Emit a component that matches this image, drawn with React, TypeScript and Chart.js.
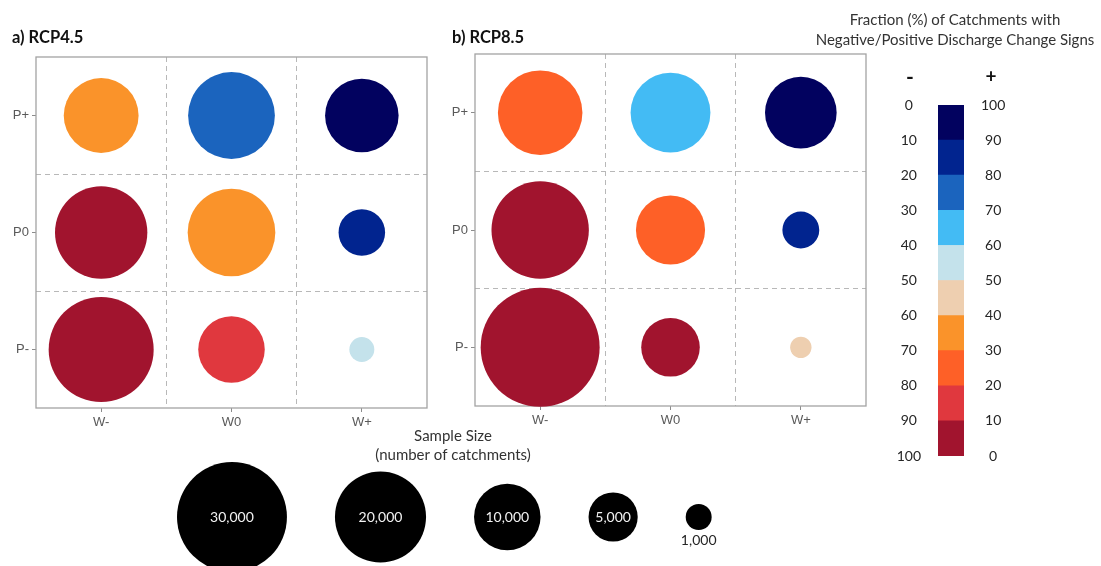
import React, { useEffect, useRef } from 'react';
import { Chart, registerables } from 'chart.js';

Chart.register(...registerables);

// ---------- data ----------
const W_LABELS = ['W-', 'W0', 'W+'];
const P_LABELS = ['P+', 'P0', 'P-'];

// row-major: P+ row, P0 row, P- row; columns W-, W0, W+
const RCP45_SIZES = [13000, 18000, 12500, 20600, 18400, 4400, 27200, 10000, 900];
const RCP45_POSITIVE = [34, 76, 97, 4, 36, 86, 3, 14, 56];
const RCP85_SIZES = [17000, 15000, 11800, 23100, 10900, 2500, 35500, 7500, 570];
const RCP85_POSITIVE = [24, 63, 96, 3, 27, 84, 2, 6, 44];

const BIN_EDGES = [0, 10, 20, 30, 40, 50, 60, 70, 80, 90, 100];
const BIN_COLORS = ['#a1142e', '#e0383e', '#fe6027', '#fa932a', '#eecfb0', '#c4e2eb', '#43bbf4', '#1b64be', '#01248f', '#02025f'];

const LEGEND_SIZES = [30000, 20000, 10000, 5000, 1000];

const COLORBAR_TITLE = ['Fraction (%) of Catchments with', 'Negative/Positive Discharge Change Signs'];
const LEGEND_TITLE = ['Sample Size', '(number of catchments)'];
const SIGN_LABELS = ['-', '+'];

// ---------- styles ----------
const SANS = 'Lato, "Open Sans", sans-serif';
const ARIAL = '"Liberation Sans", Arial, sans-serif';
const GRID = '#b8b8b8';
const FRAME = '#a3a3a3';

const sizeToRadius = (n: number) => 3.6 + 0.2966 * Math.sqrt(n);
const colorFor = (pos: number) => BIN_COLORS[Math.min(BIN_COLORS.length - 1, Math.floor(pos / 10))];
const isInt = (v: number) => Math.abs(v - Math.round(v)) < 1e-6;

const framePlugin = {
  id: 'frame',
  beforeDatasetsDraw(chart: any) {
    const { ctx, chartArea } = chart;
    ctx.save();
    ctx.strokeStyle = FRAME;
    ctx.lineWidth = 1.3;
    ctx.strokeRect(chartArea.left, chartArea.top, chartArea.right - chartArea.left, chartArea.bottom - chartArea.top);
    ctx.restore();
  },
};

function panelConfig(title: string, sizes: number[], positives: number[], lay: any) {
  const points = sizes.map((n, k) => {
    const row = Math.floor(k / W_LABELS.length);
    const col = k % W_LABELS.length;
    return { x: col + 1, y: P_LABELS.length - row, r: sizeToRadius(n) };
  });
  const axisCommon = (labelFor: (v: number) => string, width: number | null, height: number | null) => ({
    type: 'linear',
    min: 0.5,
    max: 3.5,
    ticks: {
      stepSize: 0.5,
      autoSkip: false,
      maxRotation: 0,
      padding: 3,
      color: '#595959',
      font: { family: ARIAL, size: 13 },
      callback: (v: any) => (isInt(Number(v)) ? labelFor(Math.round(Number(v))) : ''),
    },
    grid: {
      color: (c: any) => {
        const v = c.tick ? c.tick.value : 0;
        return !isInt(v) && v > 0.6 && v < 3.4 ? GRID : 'rgba(0,0,0,0)';
      },
      tickColor: (c: any) => (c.tick && isInt(c.tick.value) ? '#8c8c8c' : 'rgba(0,0,0,0)'),
      tickLength: 4,
      lineWidth: 1,
    },
    border: { display: false, dash: [5, 4] },
    afterFit: (s: any) => {
      if (width !== null) s.width = width;
      if (height !== null) s.height = height;
    },
  });
  return {
    type: 'bubble',
    data: {
      datasets: [
        {
          data: points,
          backgroundColor: positives.map(colorFor),
          borderWidth: 0,
          hoverBorderWidth: 0,
          clip: false,
        },
      ],
    },
    options: {
      animation: false,
      responsive: false,
      devicePixelRatio: 1,
      events: [],
      layout: { autoPadding: false, padding: { left: lay.padLeft, right: lay.padRight, top: 8, bottom: 0 } },
      plugins: {
        legend: { display: false },
        tooltip: { enabled: false },
        title: {
          display: true,
          text: title,
          align: 'start',
          color: '#111',
          font: { family: SANS, size: 16.5, weight: 'bold', lineHeight: 1.2 },
          padding: { top: 0, bottom: lay.titleBottom },
        },
      },
      scales: {
        x: { ...axisCommon((v) => W_LABELS[v - 1], null, lay.xHeight), position: 'bottom' },
        y: { ...axisCommon((v) => P_LABELS[P_LABELS.length - v], lay.yWidth, null), position: 'left' },
      },
    },
    plugins: [framePlugin],
  };
}

function colorbarConfig() {
  const signPlugin = {
    id: 'signs',
    afterDraw(chart: any) {
      const { ctx, chartArea } = chart;
      ctx.save();
      ctx.fillStyle = '#111';
      ctx.font = `bold 21px ${SANS}`;
      ctx.textAlign = 'center';
      ctx.textBaseline = 'middle';
      ctx.fillText(SIGN_LABELS[0], chartArea.left - 28, chartArea.top - 28);
      ctx.font = `bold 19px ${SANS}`;
      ctx.fillText(SIGN_LABELS[1], chartArea.right + 27, chartArea.top - 28);
      ctx.restore();
    },
  };
  const tickFont = { family: SANS, size: 14 };
  const sideGrid = { display: false, drawTicks: true, tickLength: 17, tickColor: 'rgba(0,0,0,0)' };
  return {
    type: 'bar',
    data: {
      labels: [''],
      datasets: BIN_COLORS.map((c, i) => ({
        data: [BIN_EDGES[i + 1] - BIN_EDGES[i]],
        backgroundColor: c,
        borderWidth: 0,
        barPercentage: 1,
        categoryPercentage: 1,
      })),
    },
    options: {
      animation: false,
      responsive: false,
      devicePixelRatio: 1,
      events: [],
      layout: { autoPadding: false, padding: { left: 0, right: 0, top: 0, bottom: 14 } },
      plugins: {
        legend: { display: false },
        tooltip: { enabled: false },
        title: {
          display: true,
          text: COLORBAR_TITLE,
          color: '#333',
          font: { family: SANS, size: 15, lineHeight: 20 / 15, weight: 'normal' },
          padding: { top: 10, bottom: 55 },
        },
      },
      scales: {
        x: { display: false, stacked: true },
        y: {
          stacked: true,
          position: 'left',
          min: 0,
          max: 100,
          ticks: {
            stepSize: 10,
            crossAlign: 'center',
            padding: 0,
            color: '#262626',
            font: tickFont,
            callback: (v: any) => String(100 - Number(v)),
          },
          grid: sideGrid,
          border: { display: false },
          afterFit: (s: any) => { s.width = 128; },
        },
        y2: {
          type: 'linear',
          axis: 'y',
          position: 'right',
          min: 0,
          max: 100,
          ticks: {
            stepSize: 10,
            crossAlign: 'center',
            padding: 0,
            color: '#262626',
            font: tickFont,
            callback: (v: any) => String(v),
          },
          grid: sideGrid,
          border: { display: false },
          afterFit: (s: any) => { s.width = 136; },
        },
      },
    },
    plugins: [signPlugin],
  };
}

function legendConfig(widthPx: number) {
  const radii = LEGEND_SIZES.map(sizeToRadius);
  const gap = 48;
  let cursor = 29;
  const points = radii.map((r) => {
    const x = cursor + r;
    cursor = x + r + gap;
    return { x, y: 0.5, r };
  });
  const labelPlugin = {
    id: 'sizeLabels',
    afterDatasetsDraw(chart: any) {
      const { ctx } = chart;
      const meta = chart.getDatasetMeta(0);
      ctx.save();
      ctx.font = `14px ${SANS}`;
      ctx.textAlign = 'center';
      ctx.textBaseline = 'middle';
      meta.data.forEach((el: any, i: number) => {
        const r = el.options.radius;
        const text = LEGEND_SIZES[i].toLocaleString('en-US');
        if (r > 20) {
          ctx.fillStyle = '#f2f2f2';
          ctx.fillText(text, el.x, el.y);
        } else {
          ctx.fillStyle = '#262626';
          ctx.fillText(text, el.x, el.y + r + 11);
        }
      });
      ctx.restore();
    },
  };
  return {
    type: 'bubble',
    data: {
      datasets: [
        { data: points, backgroundColor: '#000', borderWidth: 0, hoverBorderWidth: 0, clip: false },
      ],
    },
    options: {
      animation: false,
      responsive: false,
      devicePixelRatio: 1,
      events: [],
      layout: { autoPadding: false, padding: 0 },
      plugins: {
        legend: { display: false },
        tooltip: { enabled: false },
        title: {
          display: true,
          text: LEGEND_TITLE,
          color: '#333',
          font: { family: SANS, size: 15, lineHeight: 19 / 15, weight: 'normal' },
          padding: { top: 1.5, bottom: 3.5 },
        },
      },
      scales: {
        x: { type: 'linear', display: false, min: 0, max: widthPx },
        y: { type: 'linear', display: false, min: 0, max: 1 },
      },
    },
    plugins: [labelPlugin],
  };
}

function ChartBox({ left, top, width, height, make }: any) {
  const ref = useRef<HTMLCanvasElement | null>(null);
  useEffect(() => {
    const chart = new Chart(ref.current as HTMLCanvasElement, make() as any);
    return () => chart.destroy();
  }, []);
  return (
    <canvas
      ref={ref}
      width={width}
      height={height}
      style={{ position: 'absolute', left, top, width, height }}
    />
  );
}

export default function App() {
  return (
    <div
      style={{
        position: 'fixed',
        left: 0,
        top: 0,
        width: 1101,
        height: 566,
        background: '#ffffff',
        overflow: 'hidden',
      }}
    >
      <ChartBox
        left={0}
        top={20}
        width={440}
        height={410}
        make={() =>
          panelConfig('a) RCP4.5', RCP45_SIZES, RCP45_POSITIVE, {
            padLeft: 12, padRight: 13, titleBottom: 9.2, yWidth: 24, xHeight: 22,
          })
        }
      />
      <ChartBox
        left={440}
        top={20}
        width={440}
        height={410}
        make={() =>
          panelConfig('b) RCP8.5', RCP85_SIZES, RCP85_POSITIVE, {
            padLeft: 12, padRight: 14, titleBottom: 6.2, yWidth: 23, xHeight: 24,
          })
        }
      />
      <ChartBox left={148} top={425} width={610} height={141} make={() => legendConfig(610)} />
      <ChartBox left={810} top={0} width={290} height={470} make={colorbarConfig} />
    </div>
  );
}
